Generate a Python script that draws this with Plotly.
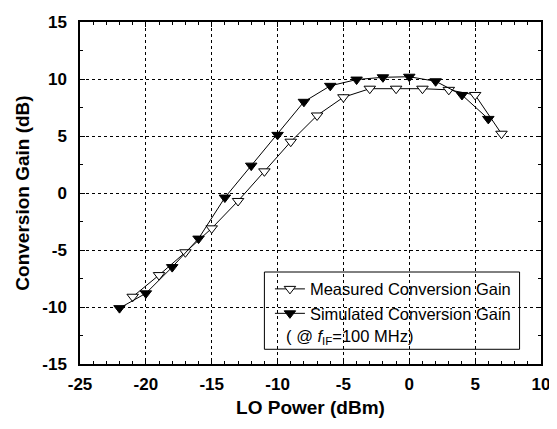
import plotly.graph_objects as go

# LO power (dBm) and conversion gain (dB)
lo_meas = [-21, -19, -17, -15, -13, -11, -9, -7, -5, -3, -1, 1, 3, 5, 7]
gain_meas = [-9.1, -7.2, -5.2, -3.1, -0.7, 1.9, 4.5, 6.8, 8.4, 9.15, 9.15, 9.15, 9.05, 8.6, 5.2]
lo_sim = [-22, -20, -18, -16, -14, -12, -10, -8, -6, -4, -2, 0, 2, 4, 6]
gain_sim = [-10.1, -8.8, -6.5, -4.0, -0.4, 2.4, 5.1, 8.0, 9.4, 9.95, 10.15, 10.2, 9.8, 8.6, 6.5]

x_ticks = [-25, -20, -15, -10, -5, 0, 5, 10]
x_labels = ["-25", "-20", "-15", "-10", "-5", "0", "5", "10"]
y_ticks = [-15, -10, -5, 0, 5, 10, 15]
y_labels = ["-15", "-10", "-5", "0", "5", "10", "15"]

FONT = "Arial, Liberation Sans"

fig = go.Figure()
fig.add_trace(go.Scatter(
    x=lo_meas, y=gain_meas, mode="lines+markers", name="Measured Conversion Gain",
    line=dict(color="black", width=1),
    marker=dict(symbol="triangle-down", size=10, color="white", line=dict(color="black", width=1)),
))
fig.add_trace(go.Scatter(
    x=lo_sim, y=gain_sim, mode="lines+markers", name="Simulated Conversion Gain",
    line=dict(color="black", width=1),
    marker=dict(symbol="triangle-down", size=10, color="black", line=dict(color="black", width=1)),
))

axis_common = dict(
    showline=True, linecolor="black", linewidth=1.5, mirror="ticks",
    ticks="inside", ticklen=5, tickcolor="black", tickwidth=1,
    showgrid=True, gridcolor="black", gridwidth=1, griddash="dot",
    zeroline=False, automargin=False,
    tickfont=dict(family=FONT, size=17, color="black", weight=700),
)

fig.update_xaxes(
    range=[-25, 10], tickmode="array", tickvals=x_ticks, ticktext=x_labels,
    minor=dict(dtick=1, tick0=0, ticks="inside", ticklen=3, tickcolor="black", showgrid=False),
    title=dict(text="LO Power (dBm)", font=dict(family=FONT, size=19, color="black", weight=700), standoff=8),
    ticklabelstandoff=4,
    **axis_common,
)
fig.update_yaxes(
    range=[-15, 15], tickmode="array", tickvals=y_ticks, ticktext=y_labels,
    minor=dict(dtick=2.5, tick0=0, ticks="inside", ticklen=3, tickcolor="black", showgrid=False),
    title=dict(text="Conversion Gain (dB)", font=dict(family=FONT, size=19, color="black", weight=700), standoff=8),
    ticklabelstandoff=8,
    **axis_common,
)

fig.add_shape(type="rect", xref="paper", yref="paper", x0=0.400, x1=0.9535, y0=0.043, y1=0.269,
              line=dict(color="black", width=1), fillcolor="white", layer="between")

fig.add_annotation(xref="paper", yref="paper", x=0.443, y=0.080, xanchor="left", yanchor="middle",
                   text="( <i>@ f</i><sub>IF</sub>=100 MHz)", showarrow=False,
                   font=dict(family=FONT, size=16.5, color="black"))

fig.update_layout(
    width=549, height=421,
    margin=dict(l=72, r=16, t=14, b=65),
    paper_bgcolor="white", plot_bgcolor="white",
    showlegend=True,
    legend=dict(x=0.412, y=0.270, xanchor="left", yanchor="top", bgcolor="rgba(0,0,0,0)",
                borderwidth=0, font=dict(family=FONT, size=16.5, color="black"),
                itemwidth=30, tracegroupgap=0),
)

fig.write_html("out.html")
